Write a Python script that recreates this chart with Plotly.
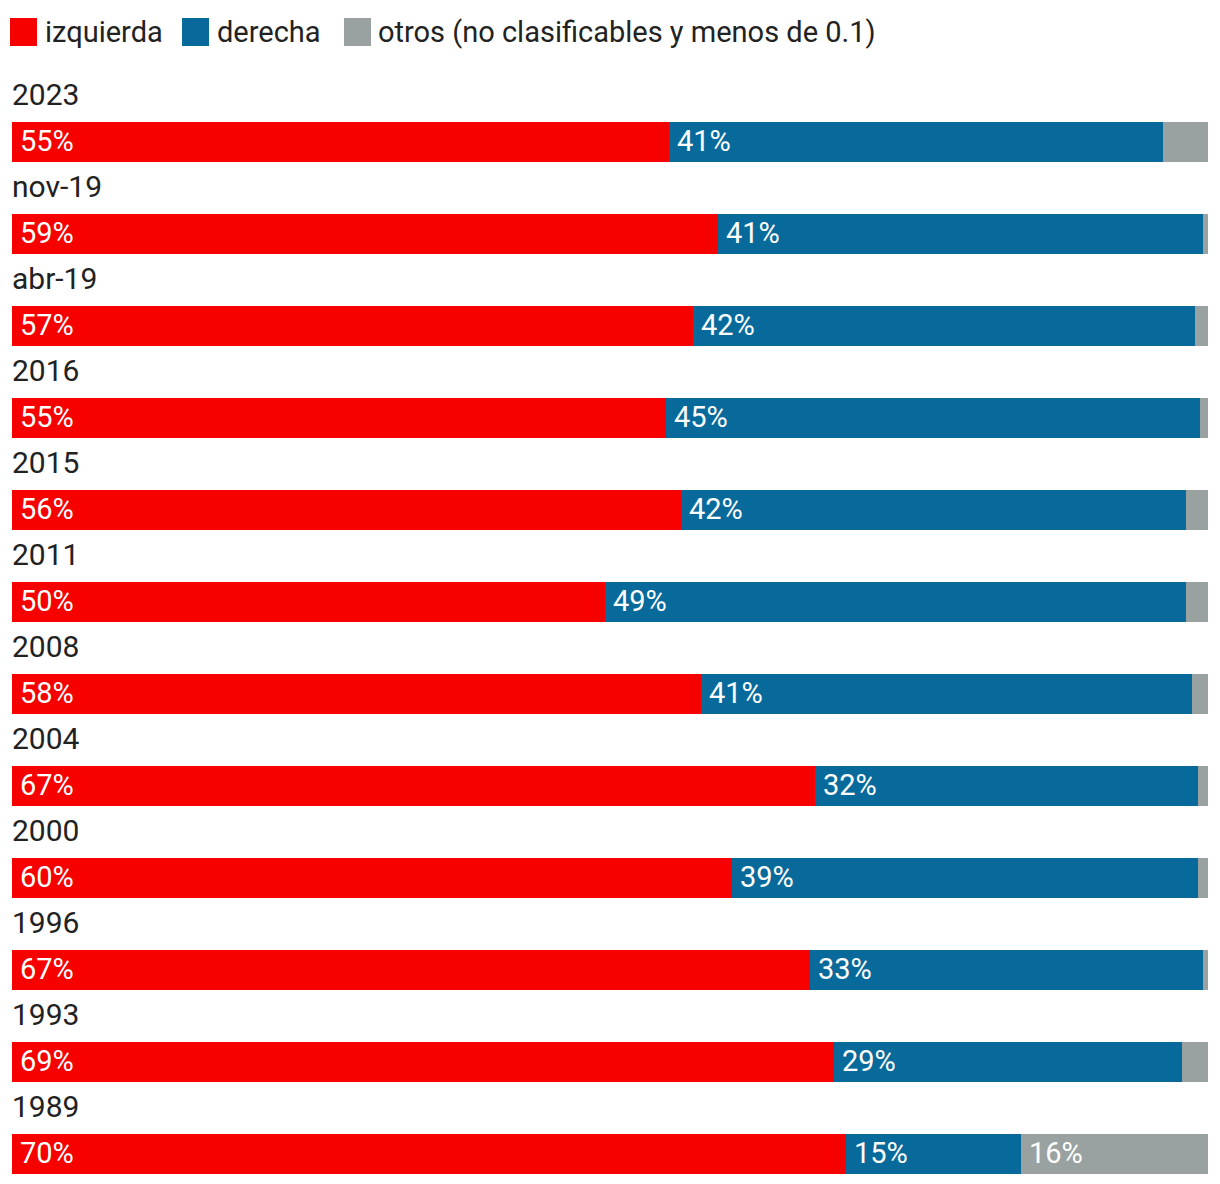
import plotly.graph_objects as go

categories = ["2023", "nov-19", "abr-19", "2016", "2015", "2011", "2008", "2004", "2000", "1996", "1993", "1989"]
izquierda = [54.9, 59.0, 56.9, 54.7, 55.9, 49.6, 57.6, 67.1, 60.2, 66.7, 68.7, 69.7]
derecha = [41.3, 40.6, 42.0, 44.6, 42.3, 48.6, 41.1, 32.1, 39.0, 32.9, 29.1, 14.7]
otros = [3.8, 0.4, 1.1, 0.7, 1.8, 1.8, 1.3, 0.8, 0.8, 0.4, 2.2, 15.6]

series_names = ["izquierda", "derecha", "otros (no clasificables y menos de 0.1)"]
colors = ["#f60000", "#086a9b", "#9aa2a1"]

OFF = 8  # page body margin
W, H = 1220 - OFF, 1184 - OFF
ML, MR, MT, MB = 12 - OFF, W - (1208 - OFF), 50 - OFF, 0
ROW = 92.0
BAR0 = 142 - OFF
FONT = "Roboto"
TXT = "#222222"

ypos = [-i for i in range(len(categories))]
fig = go.Figure()
series = [izquierda, derecha, otros]
for name, vals, col in zip(series_names, series, colors):
    fig.add_trace(go.Bar(
        y=ypos, x=vals, name=name, orientation="h",
        marker=dict(color=col, line=dict(width=0)),
        width=40 / ROW, showlegend=False, hoverinfo="x+name",
    ))

annotations = []
for i, c in enumerate(categories):
    annotations.append(dict(x=0, y=ypos[i] + 48 / ROW, xref="x", yref="y", text=c,
                            showarrow=False, xanchor="left", yanchor="middle",
                            xshift=-2, font=dict(family=FONT, size=30, color=TXT)))
for i in range(len(categories)):
    start = 0.0
    for vals in series:
        v = vals[i]
        if v >= 5:
            annotations.append(dict(x=start, y=ypos[i], xref="x", yref="y",
                                    text=f"{round(v)}%", showarrow=False,
                                    xanchor="left", yanchor="middle", xshift=6, yshift=1,
                                    font=dict(family=FONT, size=29, color="white")))
        start += v

pw = W - ML - MR
ph = H - MT - MB
def px(x):
    return (x - OFF - ML) / pw
def py(y):
    return (H - MB - (y - OFF)) / ph

shapes = []
leg = [(10, 43), (182, 215), (344, 376)]
for (sx, tx), name, col in zip(leg, series_names, colors):
    shapes.append(dict(type="rect", xref="paper", yref="paper",
                       x0=px(sx), x1=px(sx + 27), y0=py(46), y1=py(18),
                       fillcolor=col, line=dict(width=0)))
    annotations.append(dict(x=px(tx), y=py(32), xref="paper", yref="paper", text=name,
                            showarrow=False, xanchor="left", yanchor="middle",
                            font=dict(family=FONT, size=29, color=TXT)))

fig.update_layout(
    width=W, height=H, barmode="stack", bargap=0,
    margin=dict(l=ML, r=MR, t=MT, b=MB),
    paper_bgcolor="white", plot_bgcolor="white",
    xaxis=dict(range=[0, 100], visible=False, fixedrange=True),
    yaxis=dict(range=[-(H - MB - BAR0) / ROW, (BAR0 - MT) / ROW], visible=False, fixedrange=True),
    annotations=annotations, shapes=shapes,
    font=dict(family=FONT),
)
fig.write_html("out.html")
